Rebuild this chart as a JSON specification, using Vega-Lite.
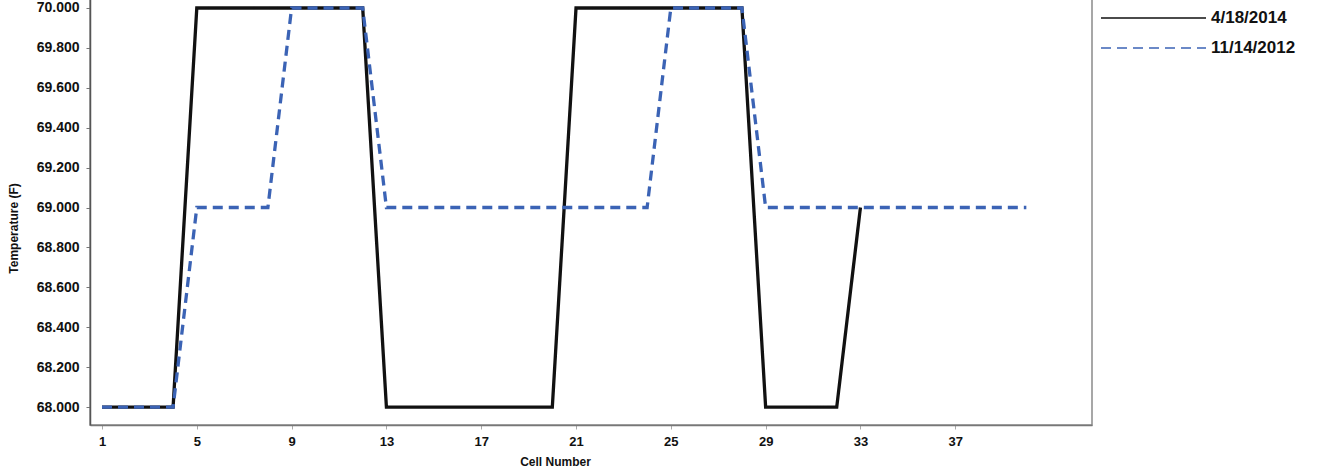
{
  "$schema": "https://vega.github.io/schema/vega-lite/v6.json",
  "width": 1002,
  "height": 427,
  "autosize": "none",
  "padding": {"left": 90, "top": -2, "right": 228, "bottom": 47},
  "background": "white",
  "config": {
    "font": "Liberation Sans",
    "view": {"stroke": "#8a8a8a", "strokeWidth": 1.5}
  },
  "data": {
    "values": [
      {"cell": 1, "temp": 68, "date": "4/18/2014"},
      {"cell": 2, "temp": 68, "date": "4/18/2014"},
      {"cell": 3, "temp": 68, "date": "4/18/2014"},
      {"cell": 4, "temp": 68, "date": "4/18/2014"},
      {"cell": 5, "temp": 70, "date": "4/18/2014"},
      {"cell": 6, "temp": 70, "date": "4/18/2014"},
      {"cell": 7, "temp": 70, "date": "4/18/2014"},
      {"cell": 8, "temp": 70, "date": "4/18/2014"},
      {"cell": 9, "temp": 70, "date": "4/18/2014"},
      {"cell": 10, "temp": 70, "date": "4/18/2014"},
      {"cell": 11, "temp": 70, "date": "4/18/2014"},
      {"cell": 12, "temp": 70, "date": "4/18/2014"},
      {"cell": 13, "temp": 68, "date": "4/18/2014"},
      {"cell": 14, "temp": 68, "date": "4/18/2014"},
      {"cell": 15, "temp": 68, "date": "4/18/2014"},
      {"cell": 16, "temp": 68, "date": "4/18/2014"},
      {"cell": 17, "temp": 68, "date": "4/18/2014"},
      {"cell": 18, "temp": 68, "date": "4/18/2014"},
      {"cell": 19, "temp": 68, "date": "4/18/2014"},
      {"cell": 20, "temp": 68, "date": "4/18/2014"},
      {"cell": 21, "temp": 70, "date": "4/18/2014"},
      {"cell": 22, "temp": 70, "date": "4/18/2014"},
      {"cell": 23, "temp": 70, "date": "4/18/2014"},
      {"cell": 24, "temp": 70, "date": "4/18/2014"},
      {"cell": 25, "temp": 70, "date": "4/18/2014"},
      {"cell": 26, "temp": 70, "date": "4/18/2014"},
      {"cell": 27, "temp": 70, "date": "4/18/2014"},
      {"cell": 28, "temp": 70, "date": "4/18/2014"},
      {"cell": 29, "temp": 68, "date": "4/18/2014"},
      {"cell": 30, "temp": 68, "date": "4/18/2014"},
      {"cell": 31, "temp": 68, "date": "4/18/2014"},
      {"cell": 32, "temp": 68, "date": "4/18/2014"},
      {"cell": 33, "temp": 69, "date": "4/18/2014"},
      {"cell": 1, "temp": 68, "date": "11/14/2012"},
      {"cell": 2, "temp": 68, "date": "11/14/2012"},
      {"cell": 3, "temp": 68, "date": "11/14/2012"},
      {"cell": 4, "temp": 68, "date": "11/14/2012"},
      {"cell": 5, "temp": 69, "date": "11/14/2012"},
      {"cell": 6, "temp": 69, "date": "11/14/2012"},
      {"cell": 7, "temp": 69, "date": "11/14/2012"},
      {"cell": 8, "temp": 69, "date": "11/14/2012"},
      {"cell": 9, "temp": 70, "date": "11/14/2012"},
      {"cell": 10, "temp": 70, "date": "11/14/2012"},
      {"cell": 11, "temp": 70, "date": "11/14/2012"},
      {"cell": 12, "temp": 70, "date": "11/14/2012"},
      {"cell": 13, "temp": 69, "date": "11/14/2012"},
      {"cell": 14, "temp": 69, "date": "11/14/2012"},
      {"cell": 15, "temp": 69, "date": "11/14/2012"},
      {"cell": 16, "temp": 69, "date": "11/14/2012"},
      {"cell": 17, "temp": 69, "date": "11/14/2012"},
      {"cell": 18, "temp": 69, "date": "11/14/2012"},
      {"cell": 19, "temp": 69, "date": "11/14/2012"},
      {"cell": 20, "temp": 69, "date": "11/14/2012"},
      {"cell": 21, "temp": 69, "date": "11/14/2012"},
      {"cell": 22, "temp": 69, "date": "11/14/2012"},
      {"cell": 23, "temp": 69, "date": "11/14/2012"},
      {"cell": 24, "temp": 69, "date": "11/14/2012"},
      {"cell": 25, "temp": 70, "date": "11/14/2012"},
      {"cell": 26, "temp": 70, "date": "11/14/2012"},
      {"cell": 27, "temp": 70, "date": "11/14/2012"},
      {"cell": 28, "temp": 70, "date": "11/14/2012"},
      {"cell": 29, "temp": 69, "date": "11/14/2012"},
      {"cell": 30, "temp": 69, "date": "11/14/2012"},
      {"cell": 31, "temp": 69, "date": "11/14/2012"},
      {"cell": 32, "temp": 69, "date": "11/14/2012"},
      {"cell": 33, "temp": 69, "date": "11/14/2012"},
      {"cell": 34, "temp": 69, "date": "11/14/2012"},
      {"cell": 35, "temp": 69, "date": "11/14/2012"},
      {"cell": 36, "temp": 69, "date": "11/14/2012"},
      {"cell": 37, "temp": 69, "date": "11/14/2012"},
      {"cell": 38, "temp": 69, "date": "11/14/2012"},
      {"cell": 39, "temp": 69, "date": "11/14/2012"},
      {"cell": 40, "temp": 69, "date": "11/14/2012"}
    ]
  },
  "mark": {"type": "line", "strokeJoin": "miter", "strokeCap": "butt", "strokeWidth": 3.3},
  "encoding": {
    "x": {
      "field": "cell",
      "type": "quantitative",
      "scale": {"domain": [0.494, 42.77], "nice": false, "zero": false},
      "axis": {
        "title": "Cell Number",
        "values": [1, 5, 9, 13, 17, 21, 25, 29, 33, 37],
        "format": "d",
        "grid": false,
        "domainColor": "#777",
        "domainWidth": 1.5,
        "tickColor": "#aaa",
        "tickSize": 4,
        "labelFontSize": 13,
        "labelFontWeight": "bold",
        "labelColor": "#111",
        "labelPadding": 6,
        "titleFontSize": 12,
        "titleFontWeight": "bold",
        "titleColor": "#111",
        "titleX": 465,
        "titleY": 31
      }
    },
    "y": {
      "field": "temp",
      "type": "quantitative",
      "scale": {"domain": [67.91, 70.05], "nice": false, "zero": false},
      "axis": {
        "title": "Temperature (F)",
        "values": [68, 68.2, 68.4, 68.6, 68.8, 69, 69.2, 69.4, 69.6, 69.8, 70],
        "format": ".3f",
        "grid": false,
        "domainColor": "#555",
        "domainWidth": 1.5,
        "tickColor": "#777",
        "tickSize": 4,
        "labelFontSize": 14,
        "labelFontWeight": "bold",
        "labelColor": "#111",
        "labelPadding": 7,
        "titleFontSize": 12,
        "titleFontWeight": "bold",
        "titleColor": "#111",
        "titleX": -70,
        "titleY": 230
      }
    },
    "color": {
      "field": "date",
      "type": "nominal",
      "sort": ["4/18/2014", "11/14/2012"],
      "scale": {"domain": ["4/18/2014", "11/14/2012"], "range": ["#111111", "#3b63b5"]},
      "legend": {
        "title": null,
        "orient": "none",
        "legendX": 1010,
        "legendY": 11,
        "symbolType": "stroke",
        "symbolSize": 11025,
        "symbolStrokeWidth": 1.5,
        "clipHeight": 18,
        "labelFontSize": 17,
        "labelFontWeight": "bold",
        "labelColor": "#111",
        "labelOffset": 4,
        "rowPadding": 12
      }
    },
    "strokeDash": {
      "field": "date",
      "type": "nominal",
      "scale": {"domain": ["4/18/2014", "11/14/2012"], "range": [[1, 0], [10, 6]]},
      "legend": null
    },
    "order": {"field": "cell", "type": "quantitative"}
  }
}
